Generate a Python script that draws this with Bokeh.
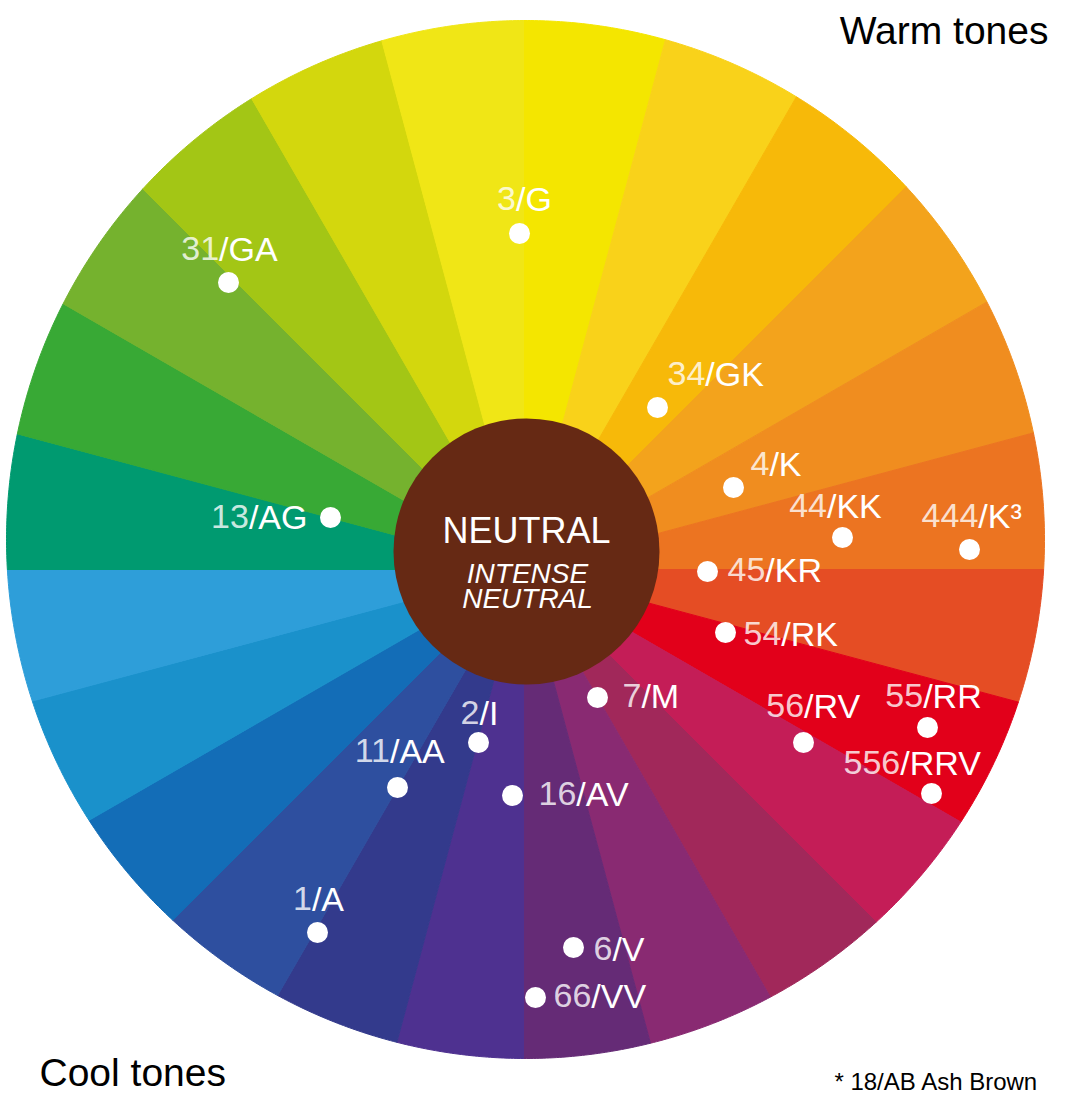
import numpy as np
from bokeh.plotting import figure
from bokeh.models import Range1d
from bokeh.embed import file_html
from bokeh.resources import INLINE
from bokeh.core.properties import value

# ---------------- data ----------------
# 24 wheel segments, clockwise from 12 o'clock, 15 degrees each
wedge_colors = ["#F4E600", "#F9D21A", "#F7B909", "#F3A31C", "#F08D1F", "#EC7421",
                "#E54D24", "#E2001A", "#C41D57", "#A1285A", "#892A72", "#652B76",
                "#4E3190", "#333A8C", "#2E4F9F", "#136DB7", "#1A91CB", "#2E9ED9",
                "#009A70", "#38A935", "#75B22E", "#A3C615", "#D3D70D", "#F0E616"]

# shade labels and where their dots sit on the wheel
shade_labels = ["3/G", "31/GA", "34/GK", "4/K", "44/KK", "444/K³", "13/AG", "45/KR",
                "54/RK", "7/M", "56/RV", "55/RR", "556/RRV", "2/I", "11/AA", "16/AV",
                "1/A", "6/V", "66/VV"]
dot_x = [519, 228, 657, 733, 842, 969, 330, 707, 725, 597, 803, 927, 931, 478, 397, 512, 317, 573, 535]
dot_y = [233, 282, 407, 487, 537, 549, 517, 571, 632, 697, 742, 727, 793, 742, 787, 795, 932, 947, 997]

# label placement relative to dot: mode c=centred, l=left edge, r=right edge
label_mode = ["c", "c", "l", "l", "c", "c", "r", "l", "l", "l", "c", "c", "c", "c", "c", "l", "c", "l", "l"]
label_dx = [5, 1, 10, 17, -7, 6, -23, 20, 18, 25, 10, 6, -19, 1, 1, 26, 1, 20, 18]
label_dy = [-35, -34, -34, -24, -32, -34, -1, -2, 1, -2, -37, -32, -31, -30, -37, -2, -34, 1, -2]

center_title = "NEUTRAL"
center_sub = ["INTENSE", "NEUTRAL"]
warm_label = "Warm tones"
cool_label = "Cool tones"
footnote = "* 18/AB Ash Brown"

# ---------------- layout ----------------
W, H = 1083, 1097
wheel_cx, wheel_cy, wheel_r = 525.0, 539.0, 519.0
apex_x, apex_y = 523.0, 569.0
hub_x, hub_y, hub_r = 526.0, 551.0, 133.0
FONT = "Liberation Sans"
fs = 34

p = figure(width=W, height=H, output_backend="svg", toolbar_location=None,
           x_range=Range1d(0, W), y_range=Range1d(H, 0),
           min_border=0, outline_line_color=None)
p.axis.visible = False
p.grid.visible = False
p.background_fill_color = "white"
p.border_fill_color = "white"


def ray_hit(theta_deg):
    t = np.radians(theta_deg)
    dx, dy = np.cos(t), -np.sin(t)
    ox, oy = apex_x - wheel_cx, apex_y - wheel_cy
    b = ox * dx + oy * dy
    c = ox * ox + oy * oy - wheel_r ** 2
    s = -b + np.sqrt(b * b - c)
    return apex_x + s * dx, apex_y + s * dy


xs, ys = [], []
n = len(wedge_colors)
step = 360.0 / n
for i in range(n):
    a0 = 90 - step * i
    a1 = 90 - step * (i + 1)
    angs = np.linspace(a0, a1, 40)
    px, py = ray_hit(angs)
    xs.append([apex_x] + list(px))
    ys.append([apex_y] + list(py))

p.patches(xs, ys, fill_color=wedge_colors, line_color=wedge_colors, line_width=1)

p.circle(x=[hub_x], y=[hub_y], radius=hub_r, fill_color="#662914", line_color=None)

p.text(x=[hub_x], y=[hub_y - 21], text=[center_title], text_font=value(FONT),
       text_font_size="36px", text_color="white", text_align="center", text_baseline="middle")
p.text(x=[hub_x + 1, hub_x + 1], y=[hub_y + 22, hub_y + 47], text=center_sub, text_font=value(FONT),
       text_font_size="28px", text_font_style="italic", text_color="white",
       text_align="center", text_baseline="middle")

# dots
p.scatter(x=dot_x, y=dot_y, size=21, marker="circle", fill_color="white", line_color=None)

# label widths (Arial / Liberation Sans advance widths in em)
adv = {"/": 0.278, "A": 0.667, "G": 0.778, "K": 0.667, "R": 0.722, "V": 0.667,
       "M": 0.833, "I": 0.278, "³": 0.333}


def width(s):
    return sum(0.556 if ch.isdigit() else adv.get(ch, 0.6) for ch in s) * fs


num_x, num_y, num_t, let_x, let_y, let_t = [], [], [], [], [], []
for lab, x, y, m, dx, dy in zip(shade_labels, dot_x, dot_y, label_mode, label_dx, label_dy):
    num, rest = lab.split("/", 1)
    rest = "/" + rest
    wt = width(lab)
    if m == "c":
        left = x + dx - wt / 2
    elif m == "l":
        left = x + dx
    else:
        left = x + dx - wt
    split = left + width(num)
    num_x.append(split); num_y.append(y + dy); num_t.append(num)
    let_x.append(split); let_y.append(y + dy); let_t.append(rest)

p.text(x=num_x, y=num_y, text=num_t, text_font=value(FONT), text_font_size=f"{fs}px",
       text_color="white", text_alpha=0.8, text_align="right", text_baseline="middle")
p.text(x=let_x, y=let_y, text=let_t, text_font=value(FONT), text_font_size=f"{fs}px",
       text_color="white", text_align="left", text_baseline="middle")

# corner annotations
p.text(x=[1048], y=[30], text=[warm_label], text_font=value(FONT), text_font_size="39px",
       text_color="black", text_align="right", text_baseline="middle")
p.text(x=[39], y=[1072], text=[cool_label], text_font=value(FONT), text_font_size="39px",
       text_color="black", text_align="left", text_baseline="middle")
p.text(x=[1038], y=[1081], text=[footnote], text_font=value(FONT), text_font_size="24px",
       text_color="black", text_align="right", text_baseline="middle")

open("out.html", "w").write(file_html(p, INLINE))
